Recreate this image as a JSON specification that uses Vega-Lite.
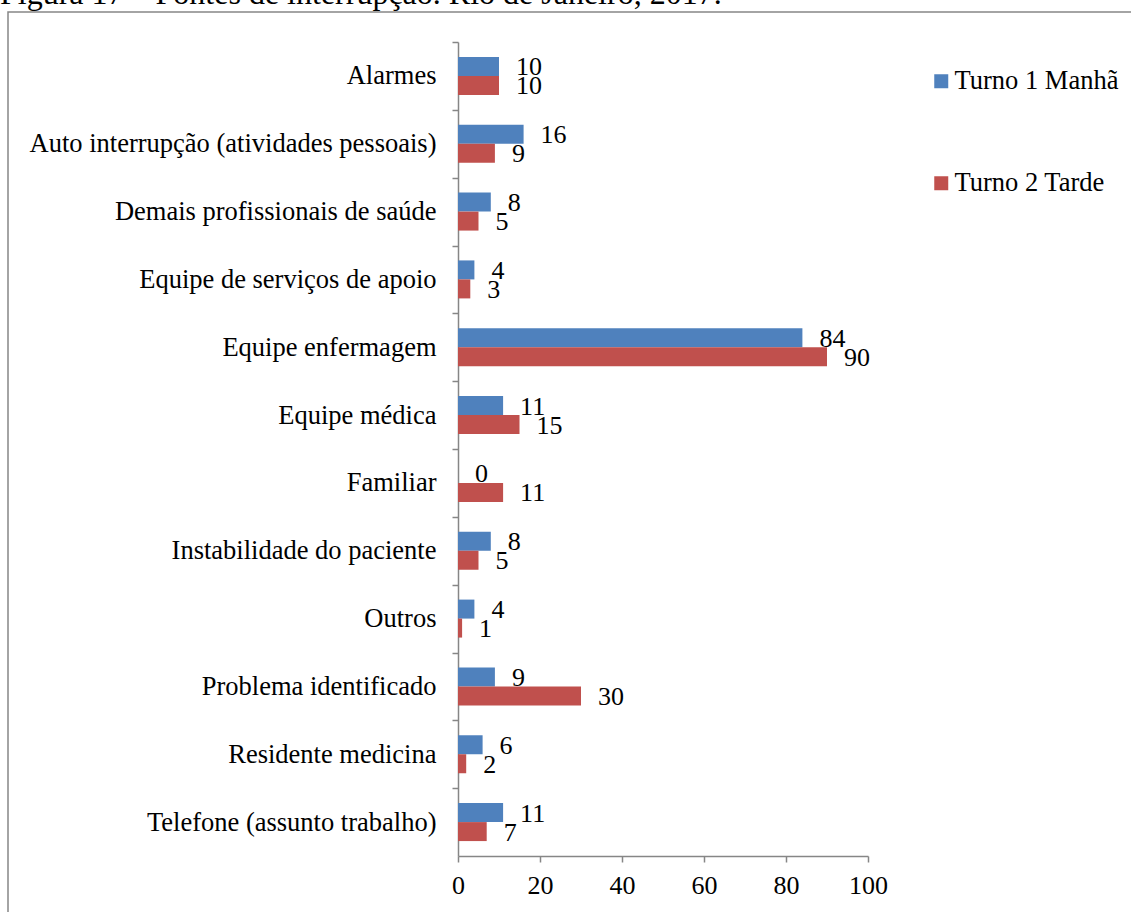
{
  "$schema": "https://vega.github.io/schema/vega-lite/v6.json",
  "autosize": {"type": "none"},
  "padding": {"left": 8, "top": 12, "right": 0, "bottom": 0},
  "width": 1123,
  "height": 900,
  "title": {
    "text": "Figura 17 – Fontes de interrupção. Rio de Janeiro, 2017.",
    "anchor": "start",
    "frame": "group",
    "orient": "top",
    "baseline": "alphabetic",
    "offset": -24,
    "dx": -8,
    "font": "Times New Roman, Liberation Serif, DejaVu Serif, serif",
    "fontSize": 32,
    "fontWeight": "normal",
    "color": "#000000"
  },
  "data": {
    "values": [
      {"categoria": "Alarmes", "turno": "Turno 1 Manhã", "valor": 10},
      {"categoria": "Alarmes", "turno": "Turno 2 Tarde", "valor": 10},
      {"categoria": "Auto interrupção (atividades pessoais)", "turno": "Turno 1 Manhã", "valor": 16},
      {"categoria": "Auto interrupção (atividades pessoais)", "turno": "Turno 2 Tarde", "valor": 9},
      {"categoria": "Demais profissionais de saúde", "turno": "Turno 1 Manhã", "valor": 8},
      {"categoria": "Demais profissionais de saúde", "turno": "Turno 2 Tarde", "valor": 5},
      {"categoria": "Equipe de serviços de apoio", "turno": "Turno 1 Manhã", "valor": 4},
      {"categoria": "Equipe de serviços de apoio", "turno": "Turno 2 Tarde", "valor": 3},
      {"categoria": "Equipe enfermagem", "turno": "Turno 1 Manhã", "valor": 84},
      {"categoria": "Equipe enfermagem", "turno": "Turno 2 Tarde", "valor": 90},
      {"categoria": "Equipe médica", "turno": "Turno 1 Manhã", "valor": 11},
      {"categoria": "Equipe médica", "turno": "Turno 2 Tarde", "valor": 15},
      {"categoria": "Familiar", "turno": "Turno 1 Manhã", "valor": 0},
      {"categoria": "Familiar", "turno": "Turno 2 Tarde", "valor": 11},
      {"categoria": "Instabilidade do paciente", "turno": "Turno 1 Manhã", "valor": 8},
      {"categoria": "Instabilidade do paciente", "turno": "Turno 2 Tarde", "valor": 5},
      {"categoria": "Outros", "turno": "Turno 1 Manhã", "valor": 4},
      {"categoria": "Outros", "turno": "Turno 2 Tarde", "valor": 1},
      {"categoria": "Problema identificado", "turno": "Turno 1 Manhã", "valor": 9},
      {"categoria": "Problema identificado", "turno": "Turno 2 Tarde", "valor": 30},
      {"categoria": "Residente medicina", "turno": "Turno 1 Manhã", "valor": 6},
      {"categoria": "Residente medicina", "turno": "Turno 2 Tarde", "valor": 2},
      {"categoria": "Telefone (assunto trabalho)", "turno": "Turno 1 Manhã", "valor": 11},
      {"categoria": "Telefone (assunto trabalho)", "turno": "Turno 2 Tarde", "valor": 7}
    ]
  },
  "encoding": {
    "y": {
      "field": "categoria",
      "type": "nominal",
      "sort": null,
      "scale": {"range": [30, 844], "paddingInner": 0.44, "paddingOuter": 0.22},
      "axis": {
        "title": null,
        "offset": -450,
        "bandPosition": 0,
        "tickOffset": -14.92,
        "labelOffset": 14.92,
        "tickSize": 6,
        "labelPadding": 16,
        "labelFont": "Times New Roman, Liberation Serif, DejaVu Serif, serif",
        "labelFontSize": 26.5,
        "labelColor": "#000000",
        "domainColor": "#868686",
        "tickColor": "#868686",
        "domainWidth": 1.5,
        "tickWidth": 1.5,
        "labelLimit": 600
      }
    },
    "x": {
      "field": "valor",
      "type": "quantitative",
      "scale": {"domain": [0, 100], "range": [450, 860], "nice": false},
      "axis": {
        "title": null,
        "offset": -56,
        "values": [0, 20, 40, 60, 80, 100],
        "grid": false,
        "tickSize": 6,
        "labelPadding": 10,
        "labelFont": "Times New Roman, Liberation Serif, DejaVu Serif, serif",
        "labelFontSize": 26,
        "labelColor": "#000000",
        "domainColor": "#868686",
        "tickColor": "#868686",
        "domainWidth": 1.5,
        "tickWidth": 1.5,
        "labelFlush": false
      }
    },
    "yOffset": {"field": "turno", "type": "nominal", "scale": {"paddingInner": 0, "paddingOuter": 0}}
  },
  "layer": [
    {
      "mark": {"type": "bar"},
      "encoding": {
        "color": {
          "field": "turno",
          "type": "nominal",
          "scale": {"domain": ["Turno 1 Manhã", "Turno 2 Tarde"], "range": ["#4F81BD", "#C0504D"]},
          "legend": {
            "title": null,
            "orient": "none",
            "legendX": 920,
            "legendY": 56,
            "padding": 0,
            "symbolType": "square",
            "symbolSize": 196,
            "symbolStrokeWidth": 0,
            "labelFont": "Times New Roman, Liberation Serif, DejaVu Serif, serif",
            "labelFontSize": 26.5,
            "labelColor": "#000000",
            "labelOffset": 0,
            "rowPadding": 75,
            "labelLimit": 400
          }
        }
      }
    },
    {
      "mark": {"type": "text", "align": "left", "baseline": "middle", "dx": 17, "dy": 1, "font": "Times New Roman, Liberation Serif, DejaVu Serif, serif", "fontSize": 26, "color": "#000000"},
      "encoding": {"text": {"field": "valor", "type": "quantitative"}}
    }
  ],
  "config": {
    "view": {"stroke": "#868686", "strokeWidth": 1.5, "strokeDash": [1123, 2023, 900, 100]},
    "background": "#ffffff"
  }
}
